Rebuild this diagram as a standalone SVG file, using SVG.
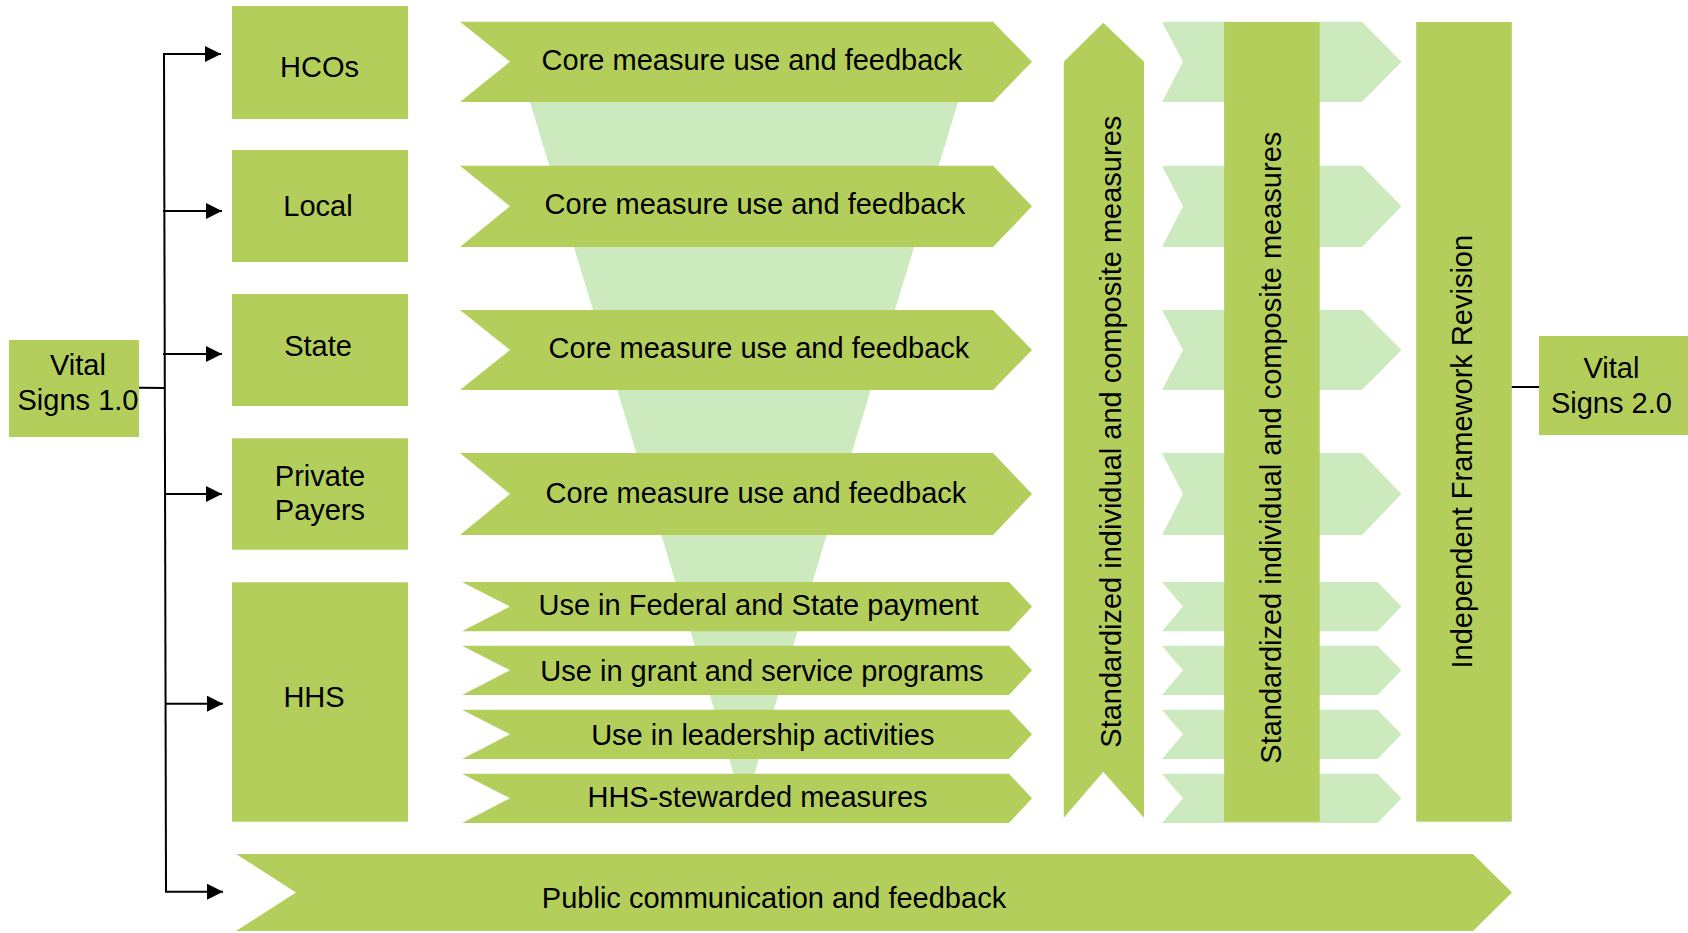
<svg xmlns="http://www.w3.org/2000/svg" width="1688" height="933" viewBox="0 0 1688 933">
<defs>
<style>
.dg{fill:#B3CE5B;}
.lg{fill:#CCEABE;}
.t{font-family:"Liberation Sans",Arial,sans-serif;font-size:29px;fill:#000;text-anchor:middle;}
.ln{stroke:#000;stroke-width:2;fill:none;}
</style>
<marker id="ah" markerUnits="userSpaceOnUse" markerWidth="17" markerHeight="16" refX="16" refY="8" orient="auto">
<path d="M0,0 L16,8 L0,16 Z" fill="#000"/>
</marker>
</defs>
<rect width="1688" height="933" fill="#fff"/>

<g id="funnel">
<polygon class="lg" points="530,102 958,102 744,808"/>
</g>

<g id="light-chevrons">
<polygon class="lg" points="1162,21.7 1362,21.7 1401.5,61.8 1362,102 1162,102 1183,61.8"/>
<polygon class="lg" points="1162,165.7 1362,165.7 1401.5,206.3 1362,247 1162,247 1183,206.3"/>
<polygon class="lg" points="1162,310 1362,310 1401.5,350 1362,390 1162,390 1183,350"/>
<polygon class="lg" points="1162,453 1362,453 1401.5,494 1362,535 1162,535 1183,494"/>
<polygon class="lg" points="1162,582 1377.5,582 1401.5,606.6 1377.5,631.3 1162,631.3 1183,606.6"/>
<polygon class="lg" points="1162,645.7 1377.5,645.7 1401.5,670.3 1377.5,695 1162,695 1183,670.3"/>
<polygon class="lg" points="1162,709.7 1377.5,709.7 1401.5,734.3 1377.5,759 1162,759 1183,734.3"/>
<polygon class="lg" points="1162,773.7 1377.5,773.7 1401.5,798.3 1377.5,823 1162,823 1183,798.3"/>
</g>

<g id="vital-signs-1">
<rect class="dg" x="9" y="340" width="130" height="97"/>
<text class="t" x="78" y="375">Vital</text>
<text class="t" x="78" y="410">Signs 1.0</text>
</g>

<g id="hcos">
<rect class="dg" x="232" y="6" width="176" height="113"/>
<text class="t" x="319.5" y="77">HCOs</text>
</g>
<g id="local">
<rect class="dg" x="232" y="150" width="176" height="112"/>
<text class="t" x="318" y="216">Local</text>
</g>
<g id="state">
<rect class="dg" x="232" y="294" width="176" height="112"/>
<text class="t" x="318" y="355.7">State</text>
</g>
<g id="private-payers">
<rect class="dg" x="232" y="438.3" width="176" height="111.4"/>
<text class="t" x="320" y="486">Private</text>
<text class="t" x="320" y="520">Payers</text>
</g>
<g id="hhs">
<rect class="dg" x="232" y="582.3" width="176" height="239.4"/>
<text class="t" x="314" y="707.3">HHS</text>
</g>

<g id="core-1">
<polygon class="dg" points="460,21.7 993,21.7 1032,61.8 993,102 460,102 510,61.8"/>
<text class="t" x="752" y="70">Core measure use and feedback</text>
</g>
<g id="core-2">
<polygon class="dg" points="460,165.7 993,165.7 1032,206.3 993,247 460,247 510,206.3"/>
<text class="t" x="755" y="214.3">Core measure use and feedback</text>
</g>
<g id="core-3">
<polygon class="dg" points="460,310 993,310 1032,350 993,390 460,390 510,350"/>
<text class="t" x="759" y="358.3">Core measure use and feedback</text>
</g>
<g id="core-4">
<polygon class="dg" points="460,453 993,453 1032,494 993,535 460,535 510,494"/>
<text class="t" x="756" y="503.3">Core measure use and feedback</text>
</g>
<g id="federal-state-payment">
<polygon class="dg" points="462,582 1009,582 1032,606.6 1009,631.3 462,631.3 510,606.6"/>
<text class="t" x="758.5" y="615">Use in Federal and State payment</text>
</g>
<g id="grant-service">
<polygon class="dg" points="462,645.7 1009,645.7 1032,670.3 1009,695 462,695 510,670.3"/>
<text class="t" x="762" y="680.5">Use in grant and service programs</text>
</g>
<g id="leadership">
<polygon class="dg" points="462,709.7 1009,709.7 1032,734.3 1009,759 462,759 510,734.3"/>
<text class="t" x="762.8" y="745">Use in leadership activities</text>
</g>
<g id="hhs-stewarded">
<polygon class="dg" points="462,773.7 1009,773.7 1032,798.3 1009,823 462,823 510,798.3"/>
<text class="t" x="757.5" y="806.7">HHS-stewarded measures</text>
</g>

<g id="public-communication">
<polygon class="dg" points="236,854 1473,854 1512,892.5 1473,931 236,931 296,892.5"/>
<text class="t" x="774" y="908.3">Public communication and feedback</text>
</g>

<g id="standardized-1">
<polygon class="dg" points="1103.3,22.7 1144,61.7 1144,817.7 1103.3,771.7 1063.8,817.7 1063.8,61.7"/>
<text class="t" transform="translate(1121,431.7) rotate(-90)">Standardized individual and composite measures</text>
</g>
<g id="standardized-2">
<rect class="dg" x="1224.1" y="22" width="95.6" height="799.7"/>
<text class="t" transform="translate(1281,447.7) rotate(-90)">Standardized individual and composite measures</text>
</g>
<g id="framework-revision">
<rect class="dg" x="1416.2" y="22" width="95.6" height="799.7"/>
<text class="t" transform="translate(1472,451.7) rotate(-90)">Independent Framework Revision</text>
</g>

<g id="vital-signs-2">
<rect class="dg" x="1539" y="336" width="149" height="99"/>
<text class="t" x="1611.4" y="377.7">Vital</text>
<text class="t" x="1611.4" y="413.3">Signs 2.0</text>
</g>

<g id="connectors">
<line class="ln" x1="139" y1="387.7" x2="165" y2="388"/>
<line class="ln" x1="164" y1="54" x2="166" y2="892"/>
<line class="ln" x1="163" y1="54" x2="221" y2="54" marker-end="url(#ah)"/>
<line class="ln" x1="163" y1="211" x2="222" y2="211" marker-end="url(#ah)"/>
<line class="ln" x1="163" y1="354" x2="222" y2="354" marker-end="url(#ah)"/>
<line class="ln" x1="164" y1="494" x2="222" y2="494" marker-end="url(#ah)"/>
<line class="ln" x1="165" y1="703.7" x2="223" y2="703.7" marker-end="url(#ah)"/>
<line class="ln" x1="165" y1="891.7" x2="223" y2="891.7" marker-end="url(#ah)"/>
<line class="ln" x1="1511.8" y1="387" x2="1539" y2="387"/>
</g>
</svg>
